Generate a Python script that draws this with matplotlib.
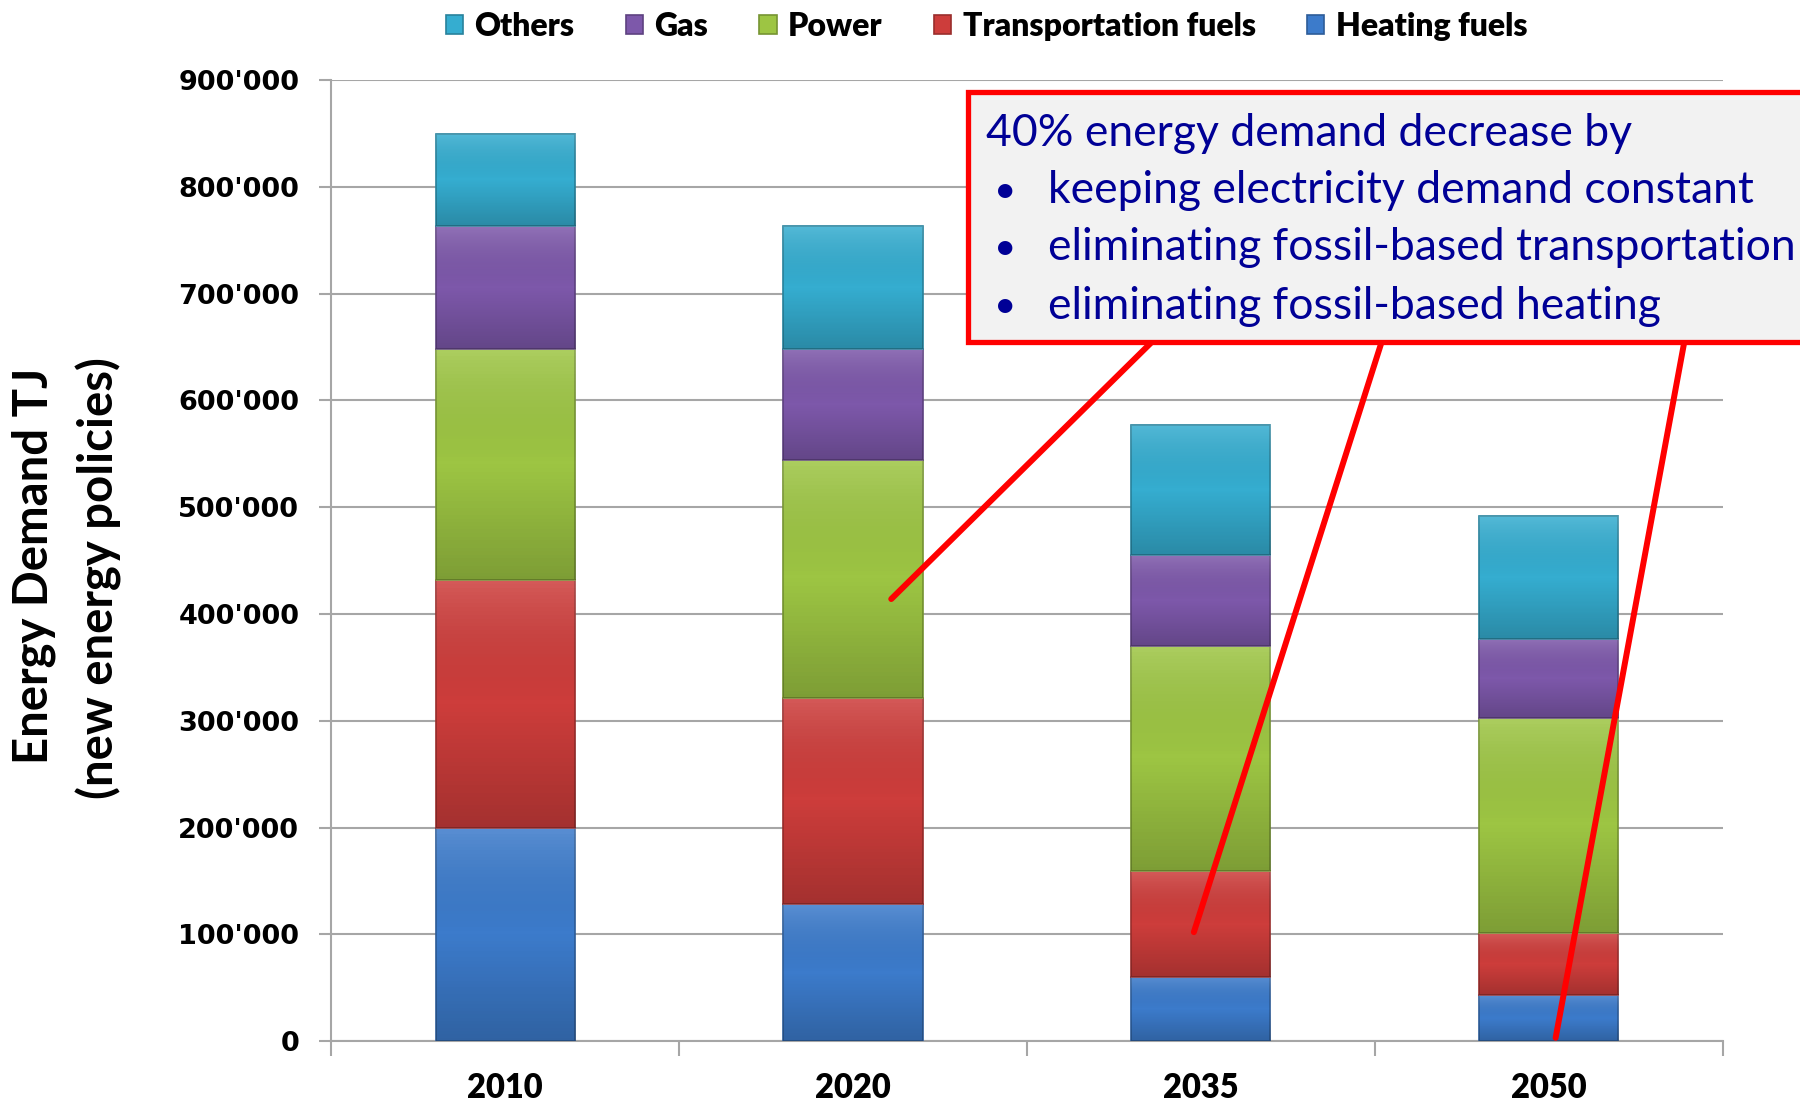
import numpy as np
import matplotlib
matplotlib.use("Agg")
import matplotlib.pyplot as plt
from matplotlib.colors import LinearSegmentedColormap, to_rgb
from matplotlib.patches import Rectangle
from matplotlib.ticker import FuncFormatter, FixedLocator

years = ["2010", "2020", "2035", "2050"]
heating = [200000, 128000, 60000, 43000]
transport = [232000, 193000, 99000, 58000]
power = [216000, 223000, 211000, 202000]
gas = [115000, 104000, 85000, 74000]
others = [87000, 115000, 122000, 115000]

series = [("Heating fuels", heating, "#3C7BCB"),
          ("Transportation fuels", transport, "#CD3D3B"),
          ("Power", power, "#9DC543"),
          ("Gas", gas, "#7D58AA"),
          ("Others", others, "#35ADD0")]

box_lines = ["40% energy demand decrease by",
             "keeping electricity demand constant",
             "eliminating fossil-based transportation",
             "eliminating fossil-based heating"]

# pointer lines from the call-out box: (start x, start y) -> (end x, end y), data units
pointers = [((1.86, 655000), (1.11, 414000)),
            ((2.52, 655000), (1.98, 102000)),
            ((3.39, 655000), (3.02, 3000))]


def darker(c, f=0.7):
    r, g, b = to_rgb(c)
    return (r * f, g * f, b * f)


fig = plt.figure(figsize=(18, 11.02), dpi=100)
ax = fig.add_axes([0.184, 0.0553, 0.773, 0.872])

shade = LinearSegmentedColormap.from_list(
    "shade", [(1, 1, 1, 0.15), (0, 0, 0, 0.0), (0, 0, 0, 0.2)])
grad = np.linspace(0, 1, 64).reshape(-1, 1)

x = np.arange(len(years))
bottom = np.zeros(len(years))
handles = []
for name, vals, col in series:
    bars = ax.bar(x, vals, 0.40, bottom=bottom, color=col,
                  edgecolor=darker(col, 0.75), linewidth=1.2, label=name, zorder=3)
    for rect in bars:
        x0, y0 = rect.get_xy()
        im = ax.imshow(grad, cmap=shade, extent=[x0, x0 + rect.get_width(), y0, y0 + rect.get_height()],
                       aspect="auto", origin="upper", zorder=3.5)
        im.set_clip_path(rect)
    handles.append(bars)
    bottom += np.array(vals)

ax.set_xlim(-0.5, 3.5)
ax.set_ylim(0, 900000)
ax.set_yticks(np.arange(0, 900001, 100000))
ax.yaxis.set_major_formatter(FuncFormatter(lambda v, p: f"{int(v):,}".replace(",", "'")))
ax.grid(axis="y", color="#A6A6A6", lw=1.5, zorder=0)
ax.set_axisbelow(True)

ax.set_xticks(x)
ax.set_xticklabels(years)
ax.xaxis.set_minor_locator(FixedLocator(np.arange(-0.5, 3.6, 1)))
ax.tick_params(axis="x", which="major", length=0, pad=22)
ax.tick_params(axis="x", which="minor", length=11, width=1.5, color="#A6A6A6")
ax.tick_params(axis="y", length=9, width=1.5, color="#A6A6A6", pad=14)
for lab in ax.get_xticklabels():
    lab.set_fontfamily("Lato")
    lab.set_fontweight("heavy")
    lab.set_fontsize(23.5)
for lab in ax.get_yticklabels():
    lab.set_fontfamily("DejaVu Sans")
    lab.set_fontweight("bold")
    lab.set_fontsize(19.5)

for s in ["top", "right"]:
    ax.spines[s].set_visible(False)
for s in ["left", "bottom"]:
    ax.spines[s].set_color("#A6A6A6")
    ax.spines[s].set_linewidth(1.5)

fig.text(0.019, 0.487, "Energy Demand TJ", rotation=90, ha="center", va="center",
         fontsize=34, fontweight="bold", family="Lato")
fig.text(0.055, 0.475, "(new energy policies)", rotation=90, ha="center", va="center",
         fontsize=34, fontweight="bold", family="Lato")

leg = fig.legend(handles[::-1], [s[0] for s in series][::-1], ncol=5, loc="center",
                 bbox_to_anchor=(0.548, 0.976), frameon=False, handlelength=0.55,
                 handleheight=0.55, handletextpad=0.35, columnspacing=1.6,
                 prop={"family": "Lato", "weight": "heavy", "size": 23})

# call-out box
box = Rectangle((0.538, 0.6897), 0.48, 0.2268, transform=fig.transFigure,
                facecolor="#F2F2F2", edgecolor="#FF0000", lw=3.8, zorder=5, clip_on=False)
fig.patches.append(box)
ys = [0.879, 0.827, 0.775, 0.722]
fig.text(0.548, ys[0], box_lines[0], color="#000096", fontsize=32, family="Lato",
         va="center", ha="left", zorder=6)
for yy, txt in zip(ys[1:], box_lines[1:]):
    fig.text(0.552, yy, "\u2022", color="#000096", fontsize=28, family="Lato",
             va="center", ha="left", zorder=6)
    fig.text(0.582, yy, txt, color="#000096", fontsize=32, family="Lato",
             va="center", ha="left", zorder=6)

for (sx, sy), (ex, ey) in pointers:
    ax.annotate("", xy=(ex, ey), xytext=(sx, sy), annotation_clip=False,
                arrowprops=dict(arrowstyle="-", color="#FF0000", lw=4.3,
                                shrinkA=0, shrinkB=0), zorder=10)

fig.savefig("out.png", dpi=100)
